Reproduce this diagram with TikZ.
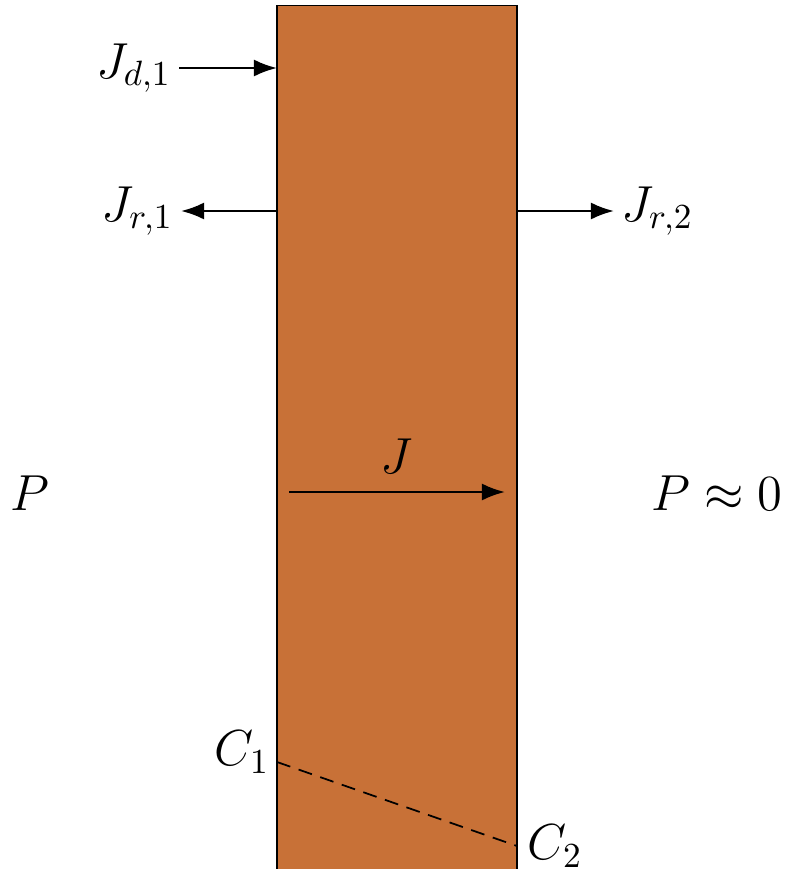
\documentclass[tikz,border=0pt]{standalone}
\usepackage{amsmath,amssymb}
\usepackage{xcolor}
\usepackage{tikz}
\usetikzlibrary{arrows.meta, positioning}
\definecolor{slabfill}{HTML}{C87137}
\tikzset{
  slab/.style={rectangle, draw=black, thin, fill=slabfill,
               minimum width=2.4cm, minimum height=8.63cm, inner sep=0pt},
  lbl/.style={font=\Large, inner sep=2pt},
  arrow/.style={-{Latex[length=2.3mm, width=1.7mm]}, line width=0.7pt},
  dashline/.style={dash pattern=on 4pt off 2.5pt, line width=0.5pt},
}

\begin{document}
\begin{tikzpicture}[x=0.01cm, y=-0.01cm]
  \useasboundingbox (0,0) rectangle (786,869);

  \node[slab] (slab) at (397,437.5) {};

  % points on the slab faces
  \coordinate (in1)  at (277,68);
  \coordinate (out1) at (277,211);
  \coordinate (out2) at (517,211);
  \coordinate (jin)  at (289,492);
  \coordinate (jout) at (505,492);
  \coordinate (c1)   at (277,762);
  \coordinate (c2)   at (517,846);

  \node[lbl, anchor=east] (jd1) at (179,68) {$J_{d,1}$};
  \node[lbl, anchor=east] (jr1) at (181,211) {$J_{r,1}$};
  \node[lbl, anchor=west] (jr2) at (614,211) {$J_{r,2}$};
  \node[lbl] (pleft)  at (30,493) {$P$};
  \node[lbl] (pright) at (717,493) {$P \approx 0$};
  \node[lbl] (lc1) at (242,752) {$C_1$};
  \node[lbl] (lc2) at (555,846) {$C_2$};

  \draw[arrow] (jd1) -- (in1);
  \draw[arrow] (out1) -- (jr1);
  \draw[arrow] (out2) -- (jr2);
  \draw[arrow] (jin) -- node[lbl, above=3pt] (jlbl) {$J$} (jout);
  \draw[dashline] (c1) -- (c2);
\end{tikzpicture}
\end{document}
